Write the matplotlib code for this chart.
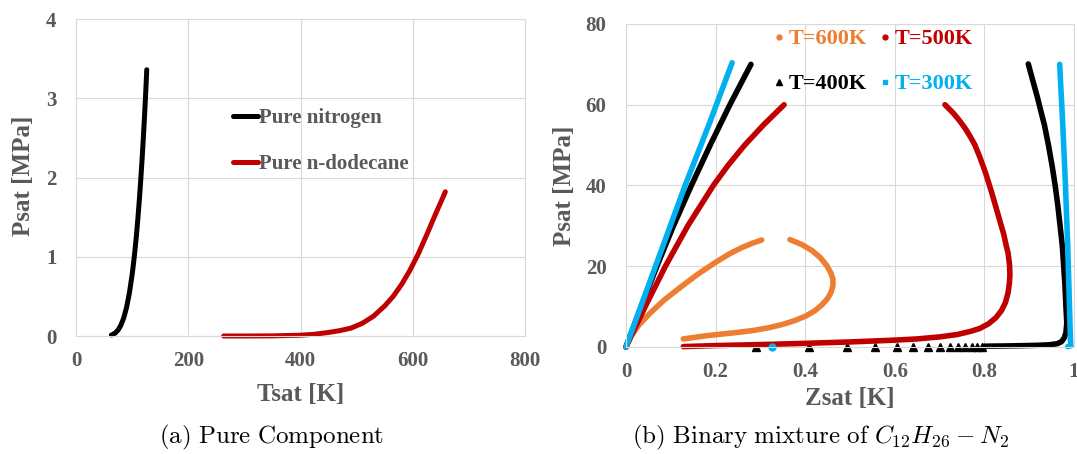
import matplotlib
matplotlib.use("Agg")
import matplotlib.pyplot as plt
from matplotlib.lines import Line2D

# ---------------- data ----------------
# (a) pure-component saturation curves: temperature [K], pressure [MPa]
n2_T = [63, 65, 70, 75, 80, 85, 90, 95, 100, 102.5, 105, 107.5, 110, 112.5,
        115, 117.5, 120, 122, 124, 126]
n2_P = [0.013, 0.017, 0.039, 0.076, 0.137, 0.229, 0.360, 0.540, 0.778, 0.92,
        1.084, 1.26, 1.467, 1.69, 1.939, 2.21, 2.51, 2.77, 3.05, 3.36]
dod_T = [263, 300, 350, 400, 425, 450, 470, 490, 510, 530, 550, 565, 580, 595,
         610, 625, 640, 650, 658]
dod_P = [0.0, 0.0001, 0.0015, 0.010, 0.022, 0.045, 0.068, 0.10, 0.16, 0.25,
         0.38, 0.50, 0.65, 0.83, 1.04, 1.28, 1.53, 1.69, 1.82]

# (b) C12H26-N2 mixture: N2 fraction and pressure [MPa], per isotherm
t600_liq_z = [0, 0.012, 0.03, 0.055, 0.085, 0.124, 0.16, 0.199, 0.23, 0.258,
              0.282, 0.303]
t600_liq_P = [0, 2.8, 5.6, 8.5, 11.6, 15.0, 18.0, 20.9, 23.0, 24.6, 25.7,
              26.5]
t600_vap_z = [0.366, 0.392, 0.415, 0.434, 0.448, 0.457, 0.462, 0.462, 0.458,
              0.45, 0.438, 0.422, 0.402, 0.378, 0.35, 0.32, 0.285, 0.24, 0.18,
              0.128]
t600_vap_P = [26.6, 25.4, 23.9, 22.1, 20.2, 18.4, 16.8, 15.2, 13.6, 12.0,
              10.5, 9.0, 7.7, 6.6, 5.6, 4.8, 4.1, 3.5, 2.8, 2.0]

t500_liq_z = [0, 0.043, 0.088, 0.138, 0.195, 0.228, 0.265, 0.307, 0.353]
t500_liq_P = [0, 10, 20, 30, 40, 45, 50, 55, 60]
t500_vap_z = [0.128, 0.2, 0.3, 0.4, 0.5, 0.6, 0.65, 0.7, 0.74, 0.77, 0.79,
              0.81, 0.826, 0.838, 0.847, 0.853, 0.856, 0.857, 0.856, 0.853,
              0.848, 0.843, 0.83, 0.817, 0.803, 0.79, 0.779, 0.769, 0.758,
              0.745, 0.73, 0.712]
t500_vap_P = [0.1, 0.35, 0.6, 0.9, 1.25, 1.7, 2.0, 2.5, 3.1, 3.9, 4.6, 5.8,
              7.3, 9.0, 11.0, 13.5, 16.0, 18.0, 20.5, 23.2, 25.5, 28.0, 33.0,
              38.0, 43.0, 47.0, 50.0, 52.0, 54.0, 56.0, 58.0, 60.0]

t400_liq_z = [0, 0.034, 0.069, 0.106, 0.146, 0.188, 0.232, 0.279]
t400_liq_P = [0, 10, 20, 30, 40, 50, 60, 70]
t400_vap_z = [0.80, 0.84, 0.88, 0.92, 0.945, 0.962, 0.972, 0.978, 0.982,
              0.984, 0.982, 0.98, 0.977, 0.974, 0.969, 0.964, 0.958, 0.951,
              0.943, 0.934, 0.927, 0.918, 0.908, 0.898]
t400_vap_P = [0.2, 0.25, 0.32, 0.42, 0.55, 0.8, 1.3, 2.2, 3.5, 6.0, 10.0,
              15.0, 20.0, 25.0, 30.0, 35.0, 40.0, 45.0, 50.0, 55.0, 58.0,
              62.0, 66.0, 70.1]
t400_low_z = [0.29, 0.409, 0.493, 0.556, 0.604, 0.641, 0.675, 0.701, 0.723,
              0.742, 0.757, 0.772, 0.783, 0.794]
t400_low_P = [0.021, 0.025, 0.030, 0.034, 0.038, 0.042, 0.046, 0.050, 0.054,
              0.058, 0.062, 0.066, 0.069, 0.073]

t300_liq_z = [0, 0.066, 0.132, 0.185, 0.237]
t300_liq_P = [0, 20, 40, 55, 70.4]
t300_vap_z = [0.968, 0.975, 0.981, 0.986, 0.99, 0.992, 0.993, 0.986]
t300_vap_P = [70, 55, 40, 25, 10, 2, 0.3, 0.1]
t300_low_z = [0.325]
t300_low_P = [0.1]

# ---------------- style ----------------
GRAY = "#595959"
GRID = "#D9D9D9"
C600, C500, C400, C300 = "#ED7D31", "#C00000", "#000000", "#00B0F0"
SERIF = "Liberation Serif"
plt.rcParams["mathtext.fontset"] = "cm"

fig = plt.figure(figsize=(10.77, 4.54), dpi=100)
ax1 = fig.add_axes([0.0706, 0.2599, 0.4169, 0.6982])
ax2 = fig.add_axes([0.5812, 0.2357, 0.4160, 0.7115])


def style_axes(ax):
    ax.set_facecolor("white")
    ax.grid(True, color=GRID, lw=0.8)
    ax.set_axisbelow(True)
    for s in ax.spines.values():
        s.set_color(GRID)
        s.set_linewidth(0.8)
    ax.tick_params(length=0, labelsize=15, labelcolor=GRAY)
    ax.tick_params(axis="y", pad=14)
    ax.tick_params(axis="x", pad=11)
    for lab in ax.get_xticklabels() + ax.get_yticklabels():
        lab.set_fontfamily(SERIF)
        lab.set_fontweight("bold")


lab_font = dict(family=SERIF, weight="bold", size=18, color=GRAY)

# ---- (a) pure components ----
ax1.plot(n2_T, n2_P, color="black", lw=3.6, solid_capstyle="round",
         solid_joinstyle="round", clip_on=False)
ax1.plot(dod_T, dod_P, color=C500, lw=3.6, solid_capstyle="round",
         solid_joinstyle="round", clip_on=False)
ax1.set_xlim(0, 800)
ax1.set_ylim(0, 4)
ax1.set_xticks([0, 200, 400, 600, 800])
ax1.set_yticks([0, 1, 2, 3, 4])
style_axes(ax1)
ax1.set_xlabel("Tsat [K]", **lab_font)
ax1.set_ylabel("Psat [MPa]", **lab_font)
ax1.xaxis.set_label_coords(0.5, -0.186)
ax1.xaxis.label.set_va("center")
ax1.yaxis.set_label_coords(-0.118, 0.505)
ax1.yaxis.label.set_va("center")

h1 = [Line2D([], [], color="black", lw=3.6, solid_capstyle="round"),
      Line2D([], [], color=C500, lw=3.6, solid_capstyle="round")]
leg1 = ax1.legend(h1, ["Pure nitrogen", "Pure n-dodecane"], loc="upper left",
                  bbox_to_anchor=(0.35, 0.719), frameon=False, borderpad=0,
                  borderaxespad=0, handlelength=1.2, handletextpad=0.05,
                  labelspacing=1.25,
                  prop=dict(family=SERIF, weight="bold", size=15))
for t in leg1.get_texts():
    t.set_color(GRAY)

# ---- (b) binary mixture ----
kw = dict(lw=4, solid_capstyle="round", solid_joinstyle="round", clip_on=False)
ax2.plot(t600_liq_z, t600_liq_P, color=C600, **kw)
ax2.plot(t600_vap_z, t600_vap_P, color=C600, **kw)
ax2.plot(t400_liq_z, t400_liq_P, color=C400, **kw)
ax2.plot(t400_vap_z, t400_vap_P, color=C400, **kw)
ax2.plot(t400_low_z, t400_low_P, ls="none", marker="^", ms=5.5, color=C400,
         clip_on=False)
ax2.plot(t500_liq_z, t500_liq_P, color=C500, **kw)
ax2.plot(t500_vap_z, t500_vap_P, color=C500, **kw)
ax2.plot(t300_liq_z, t300_liq_P, color=C300, **kw)
ax2.plot(t300_vap_z, t300_vap_P, color=C300, **kw)
ax2.plot(t300_low_z, t300_low_P, ls="none", marker="o", ms=5, color=C300,
         clip_on=False)

ax2.set_xlim(0, 1)
ax2.set_ylim(0, 80)
ax2.set_xticks([0, 0.2, 0.4, 0.6, 0.8, 1.0])
ax2.set_xticklabels(["0", "0.2", "0.4", "0.6", "0.8", "1"])
ax2.set_yticks([0, 20, 40, 60, 80])
style_axes(ax2)
ax2.set_xlabel("Zsat [K]", **lab_font)
ax2.set_ylabel("Psat [MPa]", **lab_font)
ax2.xaxis.set_label_coords(0.5, -0.161)
ax2.xaxis.label.set_va("center")
ax2.yaxis.set_label_coords(-0.138, 0.5)
ax2.yaxis.label.set_va("center")

h2 = [Line2D([], [], ls="none", marker="o", ms=3.5, color=C600),
      Line2D([], [], ls="none", marker="^", ms=4, color=C400),
      Line2D([], [], ls="none", marker="o", ms=3.5, color=C500),
      Line2D([], [], ls="none", marker="s", ms=3.5, color=C300)]
leg2 = ax2.legend(h2, ["T=600K", "T=400K", "T=500K", "T=300K"], ncol=2,
                  loc="upper left", bbox_to_anchor=(0.327, 0.985),
                  frameon=False, borderpad=0, borderaxespad=0,
                  handlelength=0.6, handletextpad=0.15, columnspacing=0.5,
                  labelspacing=1.1, labelcolor="linecolor",
                  prop=dict(family=SERIF, weight="bold", size=16))

# ---- captions ----
fig.text(272 / 1077, 1 - 437 / 454, r"$\mathrm{(a)\ Pure\ Component}$",
         ha="center", va="center", fontsize=18)
fig.text(820 / 1077, 1 - 437 / 454,
         r"$\mathrm{(b)\ Binary\ mixture\ of\ }C_{12}H_{26}-N_2$",
         ha="center", va="center", fontsize=18)

fig.savefig("out.png", dpi=100)
